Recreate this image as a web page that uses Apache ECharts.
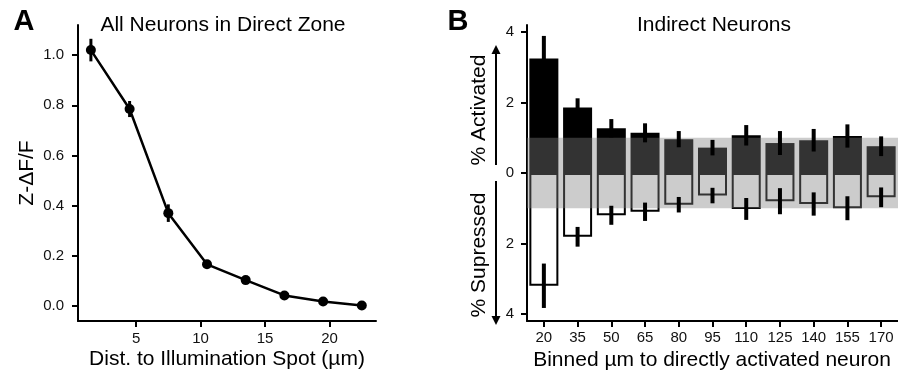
<!DOCTYPE html>
<html><head><meta charset="utf-8">
<script src="https://cdn.jsdelivr.net/npm/echarts@6/dist/echarts.min.js"></script>
<style>html,body{margin:0;padding:0;background:#fff}#c{width:898px;height:377px}</style>
</head><body><div id="c"></div>
<script>
// Panel A data
const distA = [1.5, 4.5, 7.5, 10.5, 13.5, 16.5, 19.5, 22.5];
const zdffA = [1.02, 0.785, 0.37, 0.166, 0.103, 0.042, 0.018, 0.002];
const zdffErrA = [0.045, 0.032, 0.035, 0.012, 0.01, 0.008, 0.006, 0.006];
const xTicksA = [5, 10, 15, 20];
const yTicksA = [0, 0.2, 0.4, 0.6, 0.8, 1.0];

// Panel B data
const binsB = ['20', '35', '50', '65', '80', '95', '110', '125', '140', '155', '170'];
const activatedB = [3.25, 1.86, 1.27, 1.14, 0.96, 0.72, 1.07, 0.85, 0.93, 1.05, 0.76];
const activatedErrB = [0.64, 0.26, 0.26, 0.27, 0.23, 0.22, 0.29, 0.34, 0.32, 0.33, 0.28];
const suppressedB = [3.2, 1.81, 1.2, 1.1, 0.9, 0.64, 1.02, 0.8, 0.88, 1.0, 0.69];
const suppressedErrB = [0.63, 0.28, 0.27, 0.26, 0.22, 0.22, 0.31, 0.37, 0.33, 0.34, 0.28];
const chanceBandB = 1;
const yTicksB = [-4, -2, 0, 2, 4];

const FONT = "'Liberation Sans', Arial, Helvetica, sans-serif";
const chart = echarts.init(document.getElementById('c'));

function errRender(width) {
  return function (params, api) {
    const x = api.value(0), v = api.value(1), e = api.value(2);
    const p1 = api.coord([x, v - e]), p2 = api.coord([x, v + e]);
    return { type: 'line', shape: { x1: p1[0], y1: p1[1], x2: p2[0], y2: p2[1] },
      style: { stroke: '#000', lineWidth: width } };
  };
}

const axisLine = { show: true, onZero: false, lineStyle: { color: '#000', width: 2 } };
const axisTick = (vals) => ({ show: true, length: 6, lineStyle: { color: '#000', width: 2 }, customValues: vals });
const labelStyle = { color: '#111', fontSize: 15, fontFamily: FONT };

function txt(x, y, text, size, opts) {
  opts = opts || {};
  return { type: 'text', x: x, y: y, rotation: opts.rot || 0, silent: true,
    style: { text: text, fontSize: size, fontFamily: FONT, fontWeight: opts.bold ? 'bold' : 'normal',
      fill: '#000', align: 'center', verticalAlign: 'middle', textAlign: 'center', textVerticalAlign: 'middle' } };
}

const option = {
  animation: false,
  backgroundColor: '#fff',
  grid: [
    { left: 78, top: 25, width: 298, height: 296 },
    { left: 527, top: 25, width: 371, height: 296 }
  ],
  xAxis: [
    { type: 'value', gridIndex: 0, min: 0.5, max: 23.6, splitLine: { show: false },
      axisLine: axisLine, axisTick: axisTick(xTicksA),
      axisLabel: Object.assign({ customValues: xTicksA, margin: 10 }, labelStyle) },
    { type: 'category', gridIndex: 1, data: binsB, splitLine: { show: false },
      axisLine: axisLine,
      axisTick: { show: true, alignWithLabel: true, length: 6, interval: 0, lineStyle: { color: '#000', width: 2 } },
      axisLabel: Object.assign({ interval: 0, margin: 9 }, labelStyle) }
  ],
  yAxis: [
    { type: 'value', gridIndex: 0, min: -0.06, max: 1.12, splitLine: { show: false },
      axisLine: axisLine, axisTick: axisTick(yTicksA),
      axisLabel: Object.assign({ customValues: yTicksA, margin: 14, formatter: v => v.toFixed(1) }, labelStyle) },
    { type: 'value', gridIndex: 1, min: -4.2, max: 4.2, splitLine: { show: false },
      axisLine: axisLine, axisTick: axisTick(yTicksB),
      axisLabel: Object.assign({ customValues: yTicksB, margin: 13, formatter: v => String(Math.abs(v)) }, labelStyle) }
  ],
  series: [
    { type: 'line', xAxisIndex: 0, yAxisIndex: 0, z: 3,
      data: distA.map((d, i) => [d, zdffA[i]]),
      symbol: 'circle', symbolSize: 10, itemStyle: { color: '#000' },
      lineStyle: { color: '#000', width: 2.5 } },
    { type: 'custom', xAxisIndex: 0, yAxisIndex: 0, z: 4, silent: true,
      data: distA.map((d, i) => [d, zdffA[i], zdffErrA[i]]),
      encode: { x: 0, y: 1 }, renderItem: errRender(3) },
    { type: 'bar', xAxisIndex: 1, yAxisIndex: 1, z: 2, barWidth: '86%', barGap: '-100%',
      data: activatedB, itemStyle: { color: '#000' } },
    { type: 'bar', xAxisIndex: 1, yAxisIndex: 1, z: 2, barWidth: '86%', barGap: '-100%',
      data: suppressedB.map(v => -v),
      itemStyle: { color: '#fff', borderColor: '#000', borderWidth: 2 } },
    { type: 'custom', xAxisIndex: 1, yAxisIndex: 1, z: 3, silent: true,
      data: [[0, chanceBandB, -chanceBandB]], encode: { x: 0, y: [1, 2] },
      renderItem: function (params, api) {
        const cs = params.coordSys;
        const top = api.coord([0, api.value(1)])[1];
        const bot = api.coord([0, api.value(2)])[1];
        return { type: 'rect', shape: { x: cs.x, y: top, width: cs.width, height: bot - top },
          style: { fill: 'rgba(128,128,128,0.4)' } };
      } },
    { type: 'custom', xAxisIndex: 1, yAxisIndex: 1, z: 4, silent: true,
      data: activatedB.map((v, i) => [i, v, activatedErrB[i]]),
      encode: { x: 0, y: 1 }, renderItem: errRender(4) },
    { type: 'custom', xAxisIndex: 1, yAxisIndex: 1, z: 4, silent: true,
      data: suppressedB.map((v, i) => [i, -v, suppressedErrB[i]]),
      encode: { x: 0, y: 1 }, renderItem: errRender(4) }
  ],
  graphic: [
    txt(24, 22, 'A', 29, { bold: true }),
    txt(458, 22, 'B', 29, { bold: true }),
    txt(223, 25, 'All Neurons in Direct Zone', 21),
    txt(714, 25, 'Indirect Neurons', 21),
    txt(227, 359, 'Dist. to Illumination Spot (µm)', 21),
    txt(712, 360, 'Binned µm to directly activated neuron', 21),
    txt(27, 173, 'Z-ΔF/F', 21, { rot: Math.PI / 2 }),
    txt(479, 110, '% Activated', 21, { rot: Math.PI / 2 }),
    txt(479, 255, '% Supressed', 21, { rot: Math.PI / 2 }),
    { type: 'line', silent: true, shape: { x1: 496, y1: 165, x2: 496, y2: 52 }, style: { stroke: '#000', lineWidth: 2 } },
    { type: 'polygon', silent: true, shape: { points: [[496, 45], [491.5, 54], [500.5, 54]] }, style: { fill: '#000' } },
    { type: 'line', silent: true, shape: { x1: 496, y1: 181, x2: 496, y2: 318 }, style: { stroke: '#000', lineWidth: 2 } },
    { type: 'polygon', silent: true, shape: { points: [[496, 325], [491.5, 316], [500.5, 316]] }, style: { fill: '#000' } }
  ]
};
chart.setOption(option);
</script>
</body></html>
